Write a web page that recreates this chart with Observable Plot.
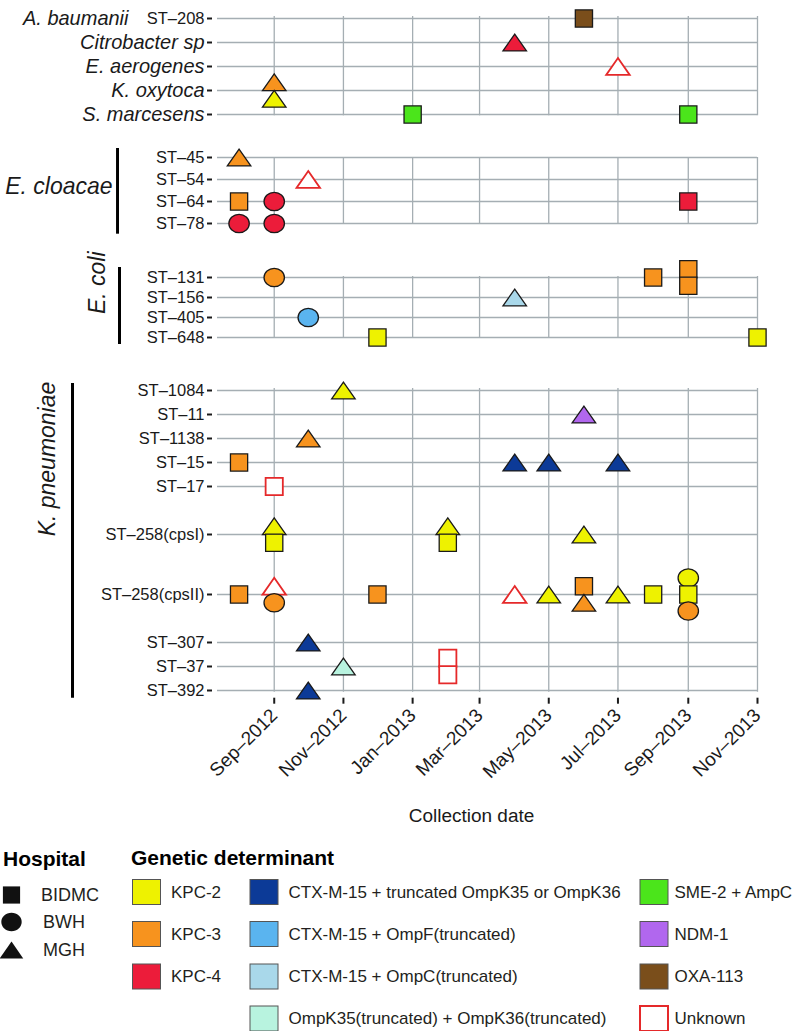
<!DOCTYPE html>
<html>
<head>
<meta charset="utf-8">
<script src="https://cdn.jsdelivr.net/npm/d3@7"></script>
<script src="https://cdn.jsdelivr.net/npm/@observablehq/plot@0.6"></script>
<style>
  body { margin: 0; background: #fff; }
  #root { position: relative; width: 793px; height: 1031px; overflow: hidden; background: #fff; }
  .panel { position: absolute; left: 0; width: 793px; }
</style>
</head>
<body>
<div id="root"></div>
<script>
// ---------------- DATA ----------------
const otherRows = ["A. baumanii", "Citrobacter sp", "E. aerogenes", "K. oxytoca", "S. marcesens"];
const acinetoST = "ST–208";
const cloacaeRows = ["ST–45", "ST–54", "ST–64", "ST–78"];
const coliRows = ["ST–131", "ST–156", "ST–405", "ST–648"];
const kpRows = ["ST–1084", "ST–11", "ST–1138", "ST–15", "ST–17", "ST–258(cpsI)", "ST–258(cpsII)", "ST–307", "ST–37", "ST–392"];
const groupLabels = ["E. cloacae", "E. coli", "K. pneumoniae"];

const xTickDates = ["2012-09-01", "2012-11-01", "2013-01-01", "2013-03-01", "2013-05-01", "2013-07-01", "2013-09-01", "2013-11-01"];
const xTitle = "Collection date";

const hospitals = ["BIDMC", "BWH", "MGH"];
const determinants = [
  "KPC-2", "KPC-3", "KPC-4",
  "CTX-M-15 + truncated OmpK35 or OmpK36", "CTX-M-15 + OmpF(truncated)", "CTX-M-15 + OmpC(truncated)",
  "OmpK35(truncated) + OmpK36(truncated)",
  "SME-2 + AmpC", "NDM-1", "OXA-113", "Unknown"
];
const determinantColors = [
  "#eef200", "#f7931e", "#ec1c3a",
  "#0c3a97", "#5ab4ef", "#a9d8ea",
  "#b8f3df",
  "#4be51b", "#b167ee", "#7a4e1b", "#ffffff"
];
const CTX_T = determinants[3], CTX_F = determinants[4], CTX_C = determinants[5], OMPK = determinants[6];

// [row, month, hospital, genetic determinant]
const otherIsolates = [
  ["A. baumanii", "2013-06", "BIDMC", "OXA-113"],
  ["Citrobacter sp", "2013-04", "MGH", "KPC-4"],
  ["E. aerogenes", "2013-07", "MGH", "Unknown"],
  ["K. oxytoca", "2012-09", "MGH", "KPC-3"],
  ["K. oxytoca", "2012-09", "MGH", "KPC-2"],
  ["S. marcesens", "2013-01", "BIDMC", "SME-2 + AmpC"],
  ["S. marcesens", "2013-09", "BIDMC", "SME-2 + AmpC"]
];
const cloacaeIsolates = [
  ["ST–45", "2012-08", "MGH", "KPC-3"],
  ["ST–54", "2012-10", "MGH", "Unknown"],
  ["ST–64", "2012-08", "BIDMC", "KPC-3"],
  ["ST–64", "2012-09", "BWH", "KPC-4"],
  ["ST–64", "2013-09", "BIDMC", "KPC-4"],
  ["ST–78", "2012-08", "BWH", "KPC-4"],
  ["ST–78", "2012-09", "BWH", "KPC-4"]
];
const coliIsolates = [
  ["ST–131", "2012-09", "BWH", "KPC-3"],
  ["ST–131", "2013-08", "BIDMC", "KPC-3"],
  ["ST–131", "2013-09", "BIDMC", "KPC-3"],
  ["ST–131", "2013-09", "BIDMC", "KPC-3"],
  ["ST–156", "2013-04", "MGH", CTX_C],
  ["ST–405", "2012-10", "BWH", CTX_F],
  ["ST–648", "2012-12", "BIDMC", "KPC-2"],
  ["ST–648", "2013-11", "BIDMC", "KPC-2"]
];
const kpIsolates = [
  ["ST–1084", "2012-11", "MGH", "KPC-2"],
  ["ST–11", "2013-06", "MGH", "NDM-1"],
  ["ST–1138", "2012-10", "MGH", "KPC-3"],
  ["ST–15", "2012-08", "BIDMC", "KPC-3"],
  ["ST–15", "2013-04", "MGH", CTX_T],
  ["ST–15", "2013-05", "MGH", CTX_T],
  ["ST–15", "2013-07", "MGH", CTX_T],
  ["ST–17", "2012-09", "BIDMC", "Unknown"],
  ["ST–258(cpsI)", "2012-09", "MGH", "KPC-2"],
  ["ST–258(cpsI)", "2012-09", "BIDMC", "KPC-2"],
  ["ST–258(cpsI)", "2013-02", "MGH", "KPC-2"],
  ["ST–258(cpsI)", "2013-02", "BIDMC", "KPC-2"],
  ["ST–258(cpsI)", "2013-06", "MGH", "KPC-2"],
  ["ST–258(cpsII)", "2012-08", "BIDMC", "KPC-3"],
  ["ST–258(cpsII)", "2012-09", "MGH", "Unknown"],
  ["ST–258(cpsII)", "2012-09", "BWH", "KPC-3"],
  ["ST–258(cpsII)", "2012-12", "BIDMC", "KPC-3"],
  ["ST–258(cpsII)", "2013-04", "MGH", "Unknown"],
  ["ST–258(cpsII)", "2013-05", "MGH", "KPC-2"],
  ["ST–258(cpsII)", "2013-06", "BIDMC", "KPC-3"],
  ["ST–258(cpsII)", "2013-06", "MGH", "KPC-3"],
  ["ST–258(cpsII)", "2013-07", "MGH", "KPC-2"],
  ["ST–258(cpsII)", "2013-08", "BIDMC", "KPC-2"],
  ["ST–258(cpsII)", "2013-09", "BWH", "KPC-2"],
  ["ST–258(cpsII)", "2013-09", "BIDMC", "KPC-2"],
  ["ST–258(cpsII)", "2013-09", "BWH", "KPC-3"],
  ["ST–307", "2012-10", "MGH", CTX_T],
  ["ST–37", "2012-11", "MGH", OMPK],
  ["ST–37", "2013-02", "BIDMC", "Unknown"],
  ["ST–37", "2013-02", "BIDMC", "Unknown"],
  ["ST–392", "2012-10", "MGH", CTX_T]
];

// ---------------- STYLE / LAYOUT ----------------
const FONT = "'Liberation Sans', Arial, Helvetica, sans-serif";
const INK = "#1a1a1a";
const GRID = "#a5aeb3";
const UNKNOWN_RED = "#e5292a";
const STACK = 16.5;
const xDomain = [new Date("2012-07-13"), new Date("2013-11-01")];
const xTicks = xTickDates.map(d => new Date(d));

// custom marker shapes (slightly wide, like the reference)
const squareSym = {draw(ctx) { const s = 8.6; ctx.moveTo(-s, -s); ctx.lineTo(s, -s); ctx.lineTo(s, s); ctx.lineTo(-s, s); ctx.closePath(); }};
const circleSym = {draw(ctx) {
  const rx = 10.2, ry = 9.2, k = 0.5523;
  ctx.moveTo(rx, 0);
  ctx.bezierCurveTo(rx, ry * k, rx * k, ry, 0, ry);
  ctx.bezierCurveTo(-rx * k, ry, -rx, ry * k, -rx, 0);
  ctx.bezierCurveTo(-rx, -ry * k, -rx * k, -ry, 0, -ry);
  ctx.bezierCurveTo(rx * k, -ry, rx, -ry * k, rx, 0);
  ctx.closePath();
}};
const triangleSym = {draw(ctx) { const w = 23.5, h = 16.8; ctx.moveTo(0, -h / 2); ctx.lineTo(w / 2, h / 2); ctx.lineTo(-w / 2, h / 2); ctx.closePath(); }};
const hospitalSymbols = [squareSym, circleSym, triangleSym];

function buildDomain(rows, step = 1, extra = {}) {
  const dom = [];
  rows.forEach((r, i) => {
    if (i > 0) {
      const n = step + (extra[r] || 0);
      for (let k = 1; k < n; k++) dom.push(`\u200b${r}#${k}`);
    }
    dom.push(r);
  });
  return dom;
}

const axisOpts = {tickSize: 5, tickPadding: 3, dx: -5, stroke: INK, strokeWidth: 2, fill: INK, label: null};
const ST_FONT = 16.5;

function drawPanel(cfg) {
  const {rows, domain, isolates, top, bottom, last, extraMarks} = cfg;
  const mt = 30, mb = last ? 150 : 30;
  const height = mt + (bottom - top) + mb;
  const data = isolates.map(([row, month, hospital, det]) => ({row, date: new Date(month + "-01"), hospital, det}));
  const cells = d3.group(data, d => `${d.row}|${d.date.getTime()}`);
  for (const g of cells.values()) g.forEach((d, i) => { d.off = (i - (g.length - 1) / 2) * STACK; });
  const offsets = [...new Set(data.map(d => d.off))].sort((a, b) => a - b);

  const marks = [
    Plot.ruleY(rows, {y: d => d, stroke: GRID, strokeWidth: 1.3}),
    Plot.ruleX(xTicks, {x: d => d, stroke: GRID, strokeWidth: 1.3}),
    ...extraMarks
  ];
  for (const o of offsets) {
    const known = data.filter(d => d.off === o && d.det !== "Unknown");
    const unknown = data.filter(d => d.off === o && d.det === "Unknown");
    if (known.length) marks.push(Plot.dot(known, {x: "date", y: "row", symbol: "hospital", fill: "det", stroke: INK, strokeWidth: 1.3, dy: o}));
    if (unknown.length) marks.push(Plot.dot(unknown, {x: "date", y: "row", symbol: "hospital", fill: "white", stroke: UNKNOWN_RED, strokeWidth: 1.8, dy: o}));
  }

  const svg = Plot.plot({
    width: 793,
    height,
    marginLeft: 217,
    marginRight: 36,
    marginTop: mt,
    marginBottom: mb,
    x: {type: "utc", domain: xDomain, ...(last ? {} : {axis: null})},
    y: {type: "point", domain, padding: 0},
    color: {domain: determinants, range: determinantColors},
    symbol: {domain: hospitals, range: hospitalSymbols},
    style: {fontFamily: FONT, background: "transparent", overflow: "visible", color: INK},
    marks
  });
  const div = document.createElement("div");
  div.className = "panel";
  div.style.top = (top - mt) + "px";
  div.appendChild(svg);
  document.getElementById("root").appendChild(div);
}

// Panel 1: other species
drawPanel({
  rows: otherRows, domain: otherRows, isolates: otherIsolates, top: 15.7, bottom: 115,
  extraMarks: [
    Plot.axisY(otherRows.slice(1), {...axisOpts, fontSize: 20, fontStyle: "italic"}),
    Plot.axisY(otherRows.slice(0, 1), {...axisOpts, fontSize: ST_FONT, tickFormat: () => acinetoST}),
    Plot.text(otherRows.slice(0, 1), {y: d => d, frameAnchor: "left", textAnchor: "end", dx: -89, fontSize: 20, fontStyle: "italic", fill: INK})
  ]
});

// Panel 2: E. cloacae
drawPanel({
  rows: cloacaeRows, domain: cloacaeRows, isolates: cloacaeIsolates, top: 157.3, bottom: 224,
  extraMarks: [
    Plot.axisY(cloacaeRows, {...axisOpts, fontSize: ST_FONT}),
    Plot.text([groupLabels[0]], {frameAnchor: "left", textAnchor: "end", dx: -105, dy: -4, fontSize: 23, fontStyle: "italic", fill: INK}),
    Plot.ruleX([xDomain[0]], {x: d => d, dx: -100, insetTop: -9, insetBottom: -10, stroke: "#000", strokeWidth: 3})
  ]
});

// Panel 3: E. coli
drawPanel({
  rows: coliRows, domain: coliRows, isolates: coliIsolates, top: 275.7, bottom: 336.7,
  extraMarks: [
    Plot.axisY(coliRows, {...axisOpts, fontSize: ST_FONT}),
    Plot.text([groupLabels[1]], {frameAnchor: "left", dx: -120, dy: 7, rotate: -90, fontSize: 23, fontStyle: "italic", fill: INK}),
    Plot.ruleX([xDomain[0]], {x: d => d, dx: -98, insetTop: -9, insetBottom: -7, stroke: "#000", strokeWidth: 3})
  ]
});

// Panel 4: K. pneumoniae
drawPanel({
  rows: kpRows,
  domain: buildDomain(kpRows, 2, {"ST–258(cpsI)": 2, "ST–258(cpsII)": 3, "ST–307": 2}),
  isolates: kpIsolates, top: 388.3, bottom: 692, last: true,
  extraMarks: [
    Plot.axisY(kpRows, {...axisOpts, fontSize: ST_FONT}),
    Plot.text([groupLabels[2]], {frameAnchor: "left", dx: -170, dy: -4, rotate: -90, fontSize: 23, fontStyle: "italic", fill: INK}),
    Plot.ruleX([xDomain[0]], {x: d => d, dx: -145, insetTop: -5, insetBottom: -6, stroke: "#000", strokeWidth: 3}),
    Plot.axisX(xTicks, {tickSize: 6, dy: 6, tickPadding: 8, tickRotate: -45, fontSize: 19, tickFormat: d3.utcFormat("%b–%Y"), stroke: INK, strokeWidth: 2, fill: INK, label: null}),
    Plot.text([xTitle], {frameAnchor: "bottom", dy: 130, dx: -16, fontSize: 19, fill: INK})
  ]
});

// ---------------- LEGEND ----------------
const leg = d3.select("#root").append("svg")
  .attr("width", 793).attr("height", 1031)
  .style("position", "absolute").style("left", "0px").style("top", "0px")
  .style("font-family", FONT).style("pointer-events", "none");

leg.append("text").attr("x", 3).attr("y", 866).attr("font-size", 21).attr("font-weight", "bold").attr("fill", "#000").text("Hospital");
const hospY = [895, 922, 950];
const hospLabelX = [41, 43, 43];
hospitals.forEach((h, i) => {
  leg.append("path").attr("transform", `translate(11.5,${hospY[i]})`).attr("d", d3.symbol(hospitalSymbols[i])()).attr("fill", "#111");
  leg.append("text").attr("x", hospLabelX[i]).attr("y", hospY[i]).attr("dy", "0.35em").attr("font-size", 18).attr("fill", "#231f20").text(h);
});

leg.append("text").attr("x", 131).attr("y", 865).attr("font-size", 21).attr("font-weight", "bold").attr("fill", "#000").text("Genetic determinant");
const legCols = [[0, 1, 2], [3, 4, 5, 6], [7, 8, 9, 10]];
const swatchX = [132.5, 250, 640];
const labelX = [171, 288.5, 674.5];
const rowTop = [879.5, 921.5, 964, 1006];
legCols.forEach((col, c) => {
  col.forEach((di, r) => {
    const unknown = determinants[di] === "Unknown";
    leg.append("rect").attr("x", swatchX[c]).attr("y", rowTop[r]).attr("width", 28).attr("height", 25)
      .attr("fill", determinantColors[di])
      .attr("stroke", unknown ? UNKNOWN_RED : "#555").attr("stroke-width", unknown ? 2 : 1);
    leg.append("text").attr("x", labelX[c]).attr("y", rowTop[r] + 12.5).attr("dy", "0.35em")
      .attr("font-size", 17).attr("fill", "#231f20").text(determinants[di]);
  });
});
</script>
</body>
</html>
